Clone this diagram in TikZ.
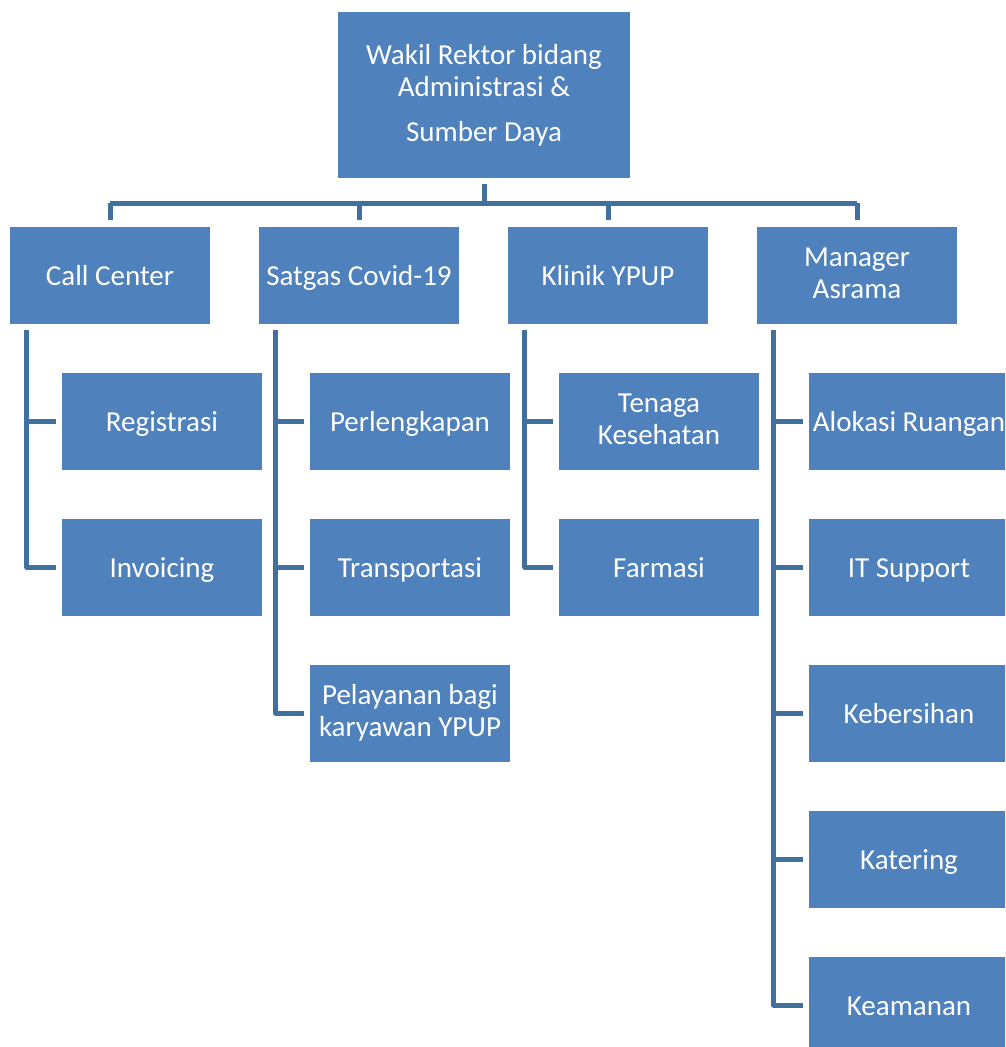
\documentclass[tikz,border=0pt]{standalone}
\usepackage{fontspec}
\setmainfont{Carlito}
\usepackage{tikz}
\usetikzlibrary{calc}
\usetikzlibrary{positioning}

\definecolor{boxblue}{HTML}{4F81BD}
\definecolor{lineblue}{HTML}{41709F}
\newcommand{\unitstrut}{\rule[-4.2pt]{0pt}{29.2pt}}

\tikzset{
  unit/.style={fill=boxblue, draw=none, text=white, inner sep=0pt,
    minimum width=200pt, minimum height=97pt, align=center,
    font=\fontsize{29pt}{32pt}\selectfont,
    execute at begin node=\unitstrut, execute at end node=\unitstrut},
  link/.style={draw=lineblue, line width=5pt},
}

\begin{document}
\begin{tikzpicture}[x=1pt, y=-1pt]
            \useasboundingbox (0, 0) rectangle (1005, 1047);
            \clip (0, 0) rectangle (1005, 1047);

            % Head
            \node[unit, minimum width=292pt, minimum height=166pt] (wr) at (484, 95)
                {Wakil Rektor bidang\\ Administrasi \&\\[13pt] Sumber Daya};

            % Units
            \node[unit] (cc) at (110, 275) {Call Center};
            \node[unit] (sg) at (359, 275) {Satgas Covid-19};
            \node[unit] (ky) at (608, 275) {Klinik YPUP};
            \node[unit] (ma) at (857, 275) {Manager\\ Asrama};

            % Sub units
            \node[unit] (reg) at (162, 421) {Registrasi};
            \node[unit] (inv) at (162, 567) {Invoicing};
            \node[unit] (per) at (410, 421) {Perlengkapan};
            \node[unit] (tra) at (410, 567) {Transportasi};
            \node[unit] (pel) at (410, 713) {Pelayanan bagi\\ karyawan YPUP};
            \node[unit] (tk) at (659, 421) {Tenaga\\ Kesehatan};
            \node[unit] (far) at (659, 567) {Farmasi};
            \node[unit] (alo) at (909, 421) {Alokasi Ruangan};
            \node[unit] (its) at (909, 567) {IT Support};
            \node[unit] (keb) at (909, 713) {Kebersihan};
            \node[unit] (kat) at (909, 859) {Katering};
            \node[unit] (kea) at (909, 1005) {Keamanan};

            % Head to units
            \coordinate (bar) at (484, 203);
            \draw[link] ([yshift=-6pt]wr.south) -- (wr.south |- bar);
            \draw[link] (cc.north |- bar) -- (ma.north |- bar);
            \foreach \u in {cc, sg, ky, ma}
                \draw[link] (\u.north |- bar) -- ([yshift=6pt]\u.north);

            % Units to sub units
            \foreach \u/\last/\subs in {cc/inv/{reg,inv}, sg/pel/{per,tra,pel},
                    ky/far/{tk,far}, ma/kea/{alo,its,keb,kat,kea}} {
                \coordinate (spine) at ([xshift=17pt, yshift=-6pt]\u.south west);
                \draw[link, line join=round] (spine) |- ([xshift=-6pt]\last.west);
                \foreach \s in \subs
                    \draw[link] (spine |- \s.west) -- ([xshift=-6pt]\s.west);
            }
        \end{tikzpicture}
\end{document}
